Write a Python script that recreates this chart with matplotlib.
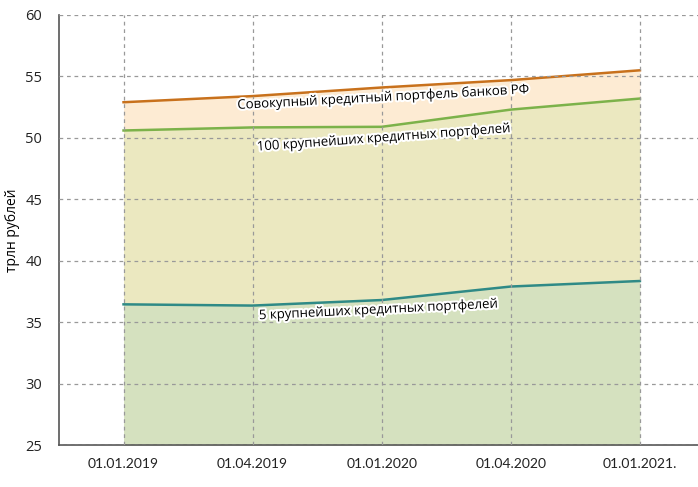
import matplotlib.pyplot as plt
import matplotlib.patheffects as pe

dates = ["01.01.2019", "01.04.2019", "01.01.2020", "01.04.2020", "01.01.2021."]
total = [52.9, 53.4, 54.1, 54.7, 55.5]
top100 = [50.6, 50.85, 50.9, 52.3, 53.2]
top5 = [36.45, 36.35, 36.8, 37.9, 38.35]

x = list(range(len(dates)))
base = 25

fig = plt.figure(figsize=(6.98, 4.87), dpi=100)
ax = fig.add_axes([0.0845, 0.0862, 0.9155, 0.883])

ax.fill_between(x, top100, total, color="#fdebd3", lw=0)
ax.fill_between(x, top5, top100, color="#ebe8c0", lw=0)
ax.fill_between(x, base, top5, color="#d5e1bf", lw=0)

ax.plot(x, total, color="#c8711c", lw=1.8)
ax.plot(x, top100, color="#7cb24a", lw=1.8)
ax.plot(x, top5, color="#2f8a86", lw=1.8)

ax.set_xlim(-0.5, 4.45)
ax.set_ylim(25, 60)
ax.set_yticks(range(25, 61, 5))
ax.set_xticks(x)
ax.set_xticklabels(dates, family="Lato", fontsize=10, color="#222222")
ax.tick_params(axis="x", length=0, pad=9)
ax.tick_params(axis="y", length=0, pad=12, labelsize=10.5, labelcolor="#222222")
for t in ax.get_yticklabels():
    t.set_family("Open Sans")

ax.grid(True, ls=(0, (3, 3)), color="#999999", lw=0.9)
ax.set_axisbelow(False)
for s in ["top", "right"]:
    ax.spines[s].set_visible(False)
ax.spines["left"].set_color("#555555")
ax.spines["left"].set_linewidth(1.2)
ax.spines["bottom"].set_color("#555555")
ax.spines["bottom"].set_linestyle((0, (3, 1)))
ax.spines["bottom"].set_linewidth(1.2)

ax.set_ylabel("трлн рублей", family="Open Sans", fontsize=10, labelpad=4)

glow = [pe.withStroke(linewidth=3, foreground="white")]
ax.text(2.02, 53.3, "Совокупный кредитный портфель банков РФ", rotation=3.1,
        ha="center", va="center", fontsize=9.5, family="Open Sans", path_effects=glow)
ax.text(2.02, 50.0, "100 крупнейших кредитных портфелей", rotation=4.2,
        ha="center", va="center", fontsize=9.5, family="Open Sans", path_effects=glow)
ax.text(1.98, 36.0, "5 крупнейших кредитных портфелей", rotation=2.8,
        ha="center", va="center", fontsize=9.5, family="Open Sans", path_effects=glow)

fig.savefig("out.png", dpi=100)
